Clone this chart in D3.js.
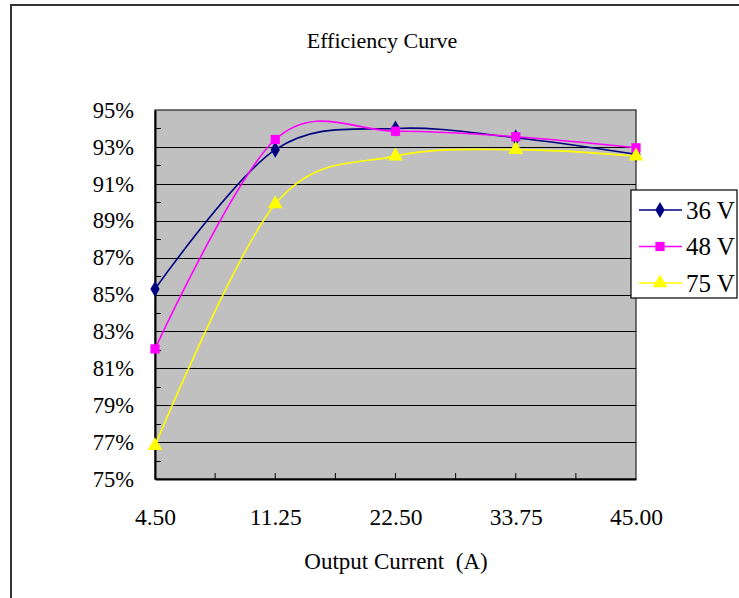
<!DOCTYPE html>
<html>
<head>
<meta charset="utf-8">
<script src="https://cdn.jsdelivr.net/npm/d3@7"></script>
<style>
  body { margin: 0; background: #fff; }
  svg { display: block; font-family: "Liberation Serif", "Times New Roman", serif; }
</style>
</head>
<body>
<div id="chart"></div>
<script>
// Efficiency curve, three input voltages
const currents = ['4.50', '11.25', '22.50', '33.75', '45.00'];
const eff36 = [85.3, 92.85, 94.0, 93.5, 92.6];
const eff48 = [82.05, 93.4, 93.85, 93.55, 92.95];
const eff75 = [76.8, 89.9, 92.5, 92.85, 92.5];
const yTicks = [75, 77, 79, 81, 83, 85, 87, 89, 91, 93, 95];

const series = [
  { name: '36 V', values: eff36, color: '#000080', shape: d3.symbolDiamond, size: 75 },
  { name: '48 V', values: eff48, color: '#ff00ff', shape: d3.symbolSquare, size: 85 },
  { name: '75 V', values: eff75, color: '#ffff00', shape: d3.symbolTriangle, size: 95 }
];

const width = 739, height = 598;
const plot = { left: 155, right: 636, top: 110, bottom: 479 };

const svg = d3.select('#chart').append('svg')
  .attr('width', width)
  .attr('height', height);

// outer chart frame (right and bottom edges run off the page)
svg.append('rect')
  .attr('x', 11).attr('y', 5)
  .attr('width', 800).attr('height', 700)
  .attr('fill', '#fff')
  .attr('stroke', '#333')
  .attr('stroke-width', 2);

const x = d3.scalePoint().domain(currents).range([plot.left, plot.right]);
const y = d3.scaleLinear().domain([75, 95]).range([plot.bottom, plot.top]);

// plot background
svg.append('rect')
  .attr('x', plot.left).attr('y', plot.top)
  .attr('width', plot.right - plot.left).attr('height', plot.bottom - plot.top)
  .attr('fill', '#c0c0c0')
  .attr('stroke', '#222')
  .attr('stroke-width', 1.2);

// gridlines
svg.append('g')
  .selectAll('line')
  .data(yTicks.slice(1, -1))
  .join('line')
  .attr('x1', plot.left).attr('x2', plot.right)
  .attr('y1', d => Math.round(y(d)) + 0.5).attr('y2', d => Math.round(y(d)) + 0.5)
  .attr('stroke', '#000')
  .attr('stroke-width', 1);

// y axis
const yAxis = d3.axisLeft(y)
  .tickValues(yTicks)
  .tickSize(0)
  .tickPadding(21)
  .tickFormat(d => d + '%');

svg.append('g')
  .attr('transform', `translate(${plot.left},0)`)
  .call(yAxis)
  .call(g => g.select('.domain').attr('stroke', '#000').attr('stroke-width', 2))
  .call(g => g.selectAll('text')
    .attr('font-family', '"Liberation Serif", serif')
    .attr('font-size', 22.5)
    .attr('fill', '#000'));

// minor inward ticks on the y axis
svg.append('g')
  .selectAll('line')
  .data(d3.range(76, 95, 2))
  .join('line')
  .attr('x1', plot.left).attr('x2', plot.left + 6)
  .attr('y1', d => Math.round(y(d)) + 0.5).attr('y2', d => Math.round(y(d)) + 0.5)
  .attr('stroke', '#000');

// x axis
const xAxis = d3.axisBottom(x)
  .tickSize(0)
  .tickPadding(29);

svg.append('g')
  .attr('transform', `translate(0,${plot.bottom})`)
  .call(xAxis)
  .call(g => g.select('.domain').attr('stroke', '#000').attr('stroke-width', 2))
  .call(g => g.selectAll('text')
    .attr('font-family', '"Liberation Serif", serif')
    .attr('font-size', 23.5)
    .attr('fill', '#000'));

// inward tick marks on the x axis, at categories and half way between
const step = x.step();
svg.append('g')
  .selectAll('line')
  .data(d3.range(1, (currents.length - 1) * 2))
  .join('line')
  .attr('x1', d => plot.left + d * step / 2)
  .attr('x2', d => plot.left + d * step / 2)
  .attr('y1', plot.bottom - 6).attr('y2', plot.bottom)
  .attr('stroke', '#000');

// lines and markers (Excel-style smoothing)
const line = d3.line()
  .x((d, i) => x(currents[i]))
  .y(d => y(d))
  .curve(d3.curveCardinal.tension(0));

series.forEach(s => {
  svg.append('path')
    .datum(s.values)
    .attr('d', line)
    .attr('fill', 'none')
    .attr('stroke', s.color)
    .attr('stroke-width', 1.6);
});

series.forEach(s => {
  svg.append('g')
    .selectAll('path')
    .data(s.values)
    .join('path')
    .attr('transform', (d, i) => `translate(${x(currents[i])},${y(d)})`)
    .attr('d', d3.symbol().type(s.shape).size(s.size))
    .attr('fill', s.color);
});

// title and axis titles
svg.append('text')
  .attr('x', 382).attr('y', 48)
  .attr('text-anchor', 'middle')
  .attr('font-size', 22)
  .text('Efficiency Curve');

svg.append('text')
  .attr('x', 396).attr('y', 569)
  .attr('text-anchor', 'middle')
  .attr('font-size', 23)
  .attr('xml:space', 'preserve')
  .text('Output Current  (A)');

svg.append('clipPath')
  .attr('id', 'ylab-clip')
  .append('rect')
  .attr('x', 40).attr('y', 247).attr('width', 40).attr('height', 120);

svg.append('text')
  .attr('clip-path', 'url(#ylab-clip)')
  .attr('transform', 'translate(71,341) rotate(-90)')
  .attr('font-size', 22)
  .text('Efficiency');

// legend
const legend = svg.append('g').attr('transform', 'translate(631,190)');
legend.append('rect')
  .attr('width', 106).attr('height', 108)
  .attr('fill', '#fff')
  .attr('stroke', '#000')
  .attr('stroke-width', 1.2);

const item = legend.selectAll('g.item')
  .data(series)
  .join('g')
  .attr('class', 'item')
  .attr('transform', (d, i) => `translate(0,${20 + i * 36.5})`);

item.append('line')
  .attr('x1', 8).attr('x2', 51)
  .attr('stroke', d => d.color)
  .attr('stroke-width', 1.6);

item.append('path')
  .attr('transform', 'translate(29,0)')
  .attr('d', d => d3.symbol().type(d.shape).size(d.size)())
  .attr('fill', d => d.color);

item.append('text')
  .attr('x', 55).attr('y', 8.5)
  .attr('font-size', 25)
  .text(d => d.name);
</script>
</body>
</html>
